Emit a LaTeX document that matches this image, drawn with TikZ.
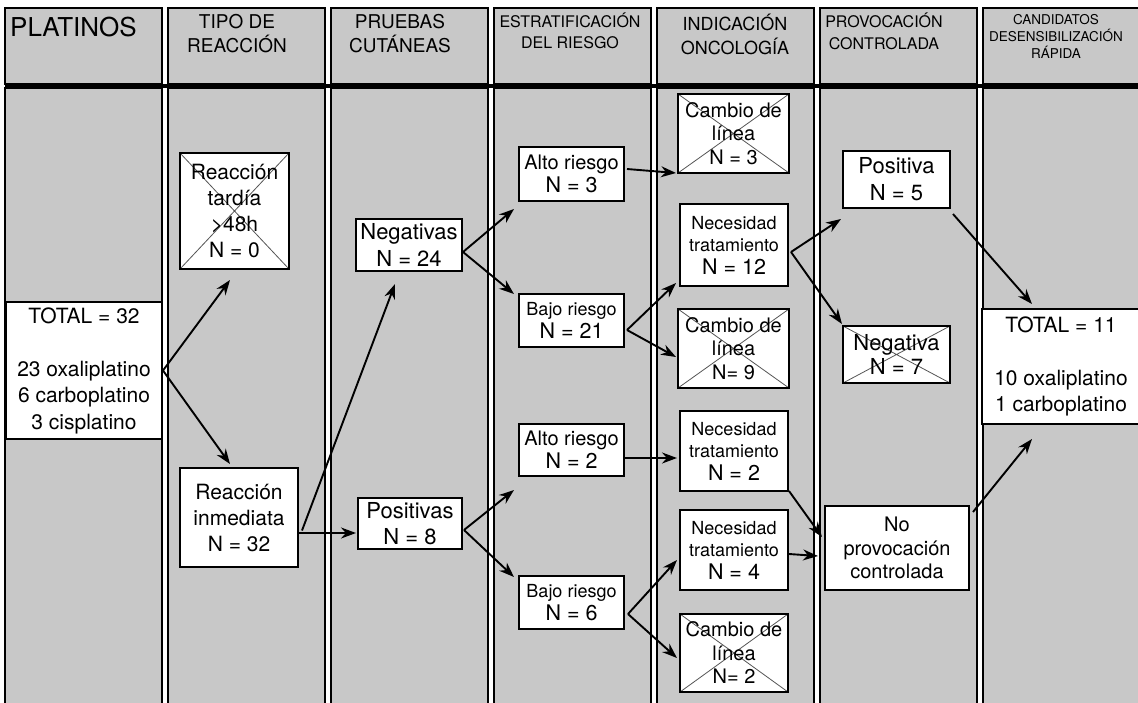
\documentclass[tikz,border=0pt]{standalone}
\usepackage{fontspec}
\setmainfont{TeX Gyre Heros}
\usetikzlibrary{arrows.meta,calc}

\definecolor{lanebg}{RGB}{200,200,200}
\definecolor{crossline}{RGB}{85,85,85}

\newcommand\txtS{\fontsize{18}{22.5}\selectfont}
\newcommand\txtN{\fontsize{21.5}{22.5}\selectfont}

\tikzset{
  lane/.style={draw=black, line width=2pt, fill=lanebg},
  box/.style={draw=black, line width=2pt, fill=white, inner sep=0pt,
    align=center, font=\fontsize{21}{26}\selectfont},
  crossed/.style={box, path picture={
    \draw[crossline, line width=0.8pt]
      (path picture bounding box.north west) -- (path picture bounding box.south east)
      (path picture bounding box.south west) -- (path picture bounding box.north east);}},
  head/.style={align=center, inner sep=0pt},
  arr/.style={line width=1.9pt, -{Stealth[length=15pt,width=11pt]}},
}

\begin{document}
\begin{tikzpicture}[x=1pt, y=-1pt]
\useasboundingbox (0,0) rectangle (1138,702);
\clip (0,0) rectangle (1138,702);
\fill[white] (0,0) rectangle (1138,702);

% swim lanes: header cells and body columns
\foreach \i in {0,...,6} {
  \pgfmathsetmacro\xl{5+163*\i}
  \draw[lane] (\xl,8) rectangle ++(157,76);
  \draw[lane] (\xl,88) rectangle ++(157,640);
}
\draw[line width=4pt] (5,86) -- (1150,86);

% column headings
\node[head, anchor=west, font=\fontsize{26}{30}\selectfont] (h1) at (10,27) {PLATINOS};
\node[head, font=\fontsize{19}{24}\selectfont] (h2) at (237,34) {TIPO DE\\REACCIÓN};
\node[head, font=\fontsize{19}{24}\selectfont] (h3) at (400,34) {PRUEBAS\\CUTÁNEAS};
\node[head, font=\fontsize{16}{21}\selectfont] (h4) at (570,31) {ESTRATIFICACIÓN\\DEL RIESGO};
\node[head, font=\fontsize{18}{24}\selectfont] (h5) at (735,34) {INDICACIÓN\\ONCOLOGÍA};
\node[head, font=\fontsize{16}{22}\selectfont] (h6) at (884,31) {PROVOCACIÓN\\CONTROLADA};
\node[head, font=\fontsize{13.5}{17}\selectfont] (h7) at (1056,36) {CANDIDATOS\\DESENSIBILIZACIÓN\\RÁPIDA};

% column 1
\node[box, minimum width=156pt, minimum height=137pt, font=\fontsize{21}{26.5}\selectfont]
  (total32) at (84,370.5) {TOTAL = 32\\[26.5pt]23 oxaliplatino\\6 carboplatino\\3 cisplatino};

% column 2
\node[crossed, minimum width=109pt, minimum height=116pt] (tardia) at (234.5,211)
  {Reacción\\tardía\\>48h\\N = 0};
\node[box, minimum width=118pt, minimum height=99pt] (inmediata) at (239,517.5)
  {Reacción\\inmediata\\N = 32};

% column 3
\node[box, minimum width=106pt, minimum height=52pt, font=\fontsize{22}{26.5}\selectfont]
  (negativas) at (409,245) {Negativas\\N = 24};
\node[box, minimum width=104pt, minimum height=51pt, font=\fontsize{22}{26.5}\selectfont]
  (positivas) at (410,523.5) {Positivas\\N = 8};

% column 4
\node[box, minimum width=105pt, minimum height=54pt, font=\fontsize{20}{23}\selectfont]
  (alto3) at (571.5,174) {Alto riesgo\\{\txtN N = 3}};
\node[box, minimum width=105pt, minimum height=53pt, font=\fontsize{18}{23}\selectfont]
  (bajo21) at (571.5,320.5) {Bajo riesgo\\{\txtN N = 21}};
\node[box, minimum width=105pt, minimum height=52pt, font=\fontsize{20}{23}\selectfont]
  (alto2) at (571.5,450) {Alto riesgo\\{\txtN N = 2}};
\node[box, minimum width=105pt, minimum height=53pt, font=\fontsize{18}{23}\selectfont]
  (bajo6) at (571.5,602.5) {Bajo riesgo\\{\txtN N = 6}};

% column 5
\node[crossed, minimum width=111pt, minimum height=79pt, font=\fontsize{20}{23.5}\selectfont]
  (cambio3) at (733.5,133.5) {Cambio de\\línea\\N = 3};
\node[box, minimum width=108pt, minimum height=82pt, font=\txtS]
  (nec12) at (734,245) {Necesidad\\tratamiento\\{\txtN N = 12}};
\node[crossed, minimum width=111pt, minimum height=79pt, font=\fontsize{20}{23.5}\selectfont]
  (cambio9) at (733.5,348.5) {Cambio de\\línea\\N= 9};
\node[box, minimum width=108pt, minimum height=80pt, font=\txtS]
  (nec2) at (734,451) {Necesidad\\tratamiento\\{\txtN N = 2}};
\node[box, minimum width=108pt, minimum height=80pt, font=\txtS]
  (nec4) at (734,550) {Necesidad\\tratamiento\\{\txtN N = 4}};
\node[crossed, minimum width=108pt, minimum height=78pt, font=\fontsize{20}{23.5}\selectfont]
  (cambio2) at (734,653) {Cambio de\\línea\\N= 2};

% column 6
\node[box, minimum width=107pt, minimum height=57pt, font=\fontsize{22}{27}\selectfont]
  (positiva) at (896.5,179.5) {Positiva\\N = 5};
\node[crossed, minimum width=107pt, minimum height=57pt, font=\fontsize{22}{24}\selectfont]
  (negativa) at (896.5,354.5) {Negativa\\N = 7};
\node[box, minimum width=144pt, minimum height=84pt, font=\fontsize{20}{23.5}\selectfont]
  (noprov) at (897,548) {No\\provocación\\controlada};

% column 7
\node[box, minimum width=158pt, minimum height=115pt, font=\fontsize{21}{26.5}\selectfont]
  (total11) at (1061,366.5) {TOTAL = 11\\[26.5pt]10 oxaliplatino\\1 carboplatino};

% connectors
\draw[arr] (total32.east) -- ($(tardia.south)+(-4.5,10)$);
\draw[arr] (total32.east) -- ($(inmediata.north)+(-9,-3)$);
\draw[arr] ($(inmediata.east)+(3,13)$) -- ($(negativas.south)+(-14,12)$);
\draw[arr] ($(inmediata.east)+(0,15.5)$) -- ($(positivas.west)+(-1,9.5)$);

\draw[arr] ($(negativas.east)+(0,7)$) -- ($(alto3.south west)+(-4,7)$);
\draw[arr] ($(negativas.east)+(0,7)$) -- ($(bajo21.north west)+(-4,1)$);
\draw[arr] ($(positivas.east)+(1,6.5)$) -- ($(alto2.south west)+(-4,13)$);
\draw[arr] ($(positivas.east)+(1,6.5)$) -- ($(bajo6.north west)+(-4,2)$);

\draw[arr] ($(alto3.east)+(2,-5)$) -- ($(cambio3.south west)+(-1,-1)$);
\draw[arr] ($(bajo21.east)+(2,9.5)$) -- ($(nec12.south west)+(-3,-4)$);
\draw[arr] ($(bajo21.east)+(2,9.5)$) -- ($(cambio9.west)+(-1,8.5)$);
\draw[arr] ($(alto2.east)+(0,8)$) -- ($(nec2.west)+(-2,7)$);
\draw[arr] ($(bajo6.east)+(3,11.5)$) -- ($(nec4.west)+(-2,10)$);
\draw[arr] ($(bajo6.east)+(3,11.5)$) -- ($(cambio2.west)+(-2,5)$);

\draw[arr] ($(nec12.east)+(2,7)$) -- ($(positiva.south west)+(-1,10)$);
\draw[arr] ($(nec12.east)+(2,7)$) -- ($(negativa.north west)+(0,-1)$);
\draw[arr] ($(nec2.south east)+(0,-1)$) -- ($(noprov.west)+(-2,-11)$);
\draw[arr] ($(nec4.east)+(0,4)$) -- ($(noprov.west)+(-6,8)$);

\draw[arr] ($(positiva.south east)+(2,5)$) -- ($(total11.north)+(-29,-4)$);
\draw[arr] ($(noprov.north east)+(3,7)$) -- ($(total11.south)+(-29,14)$);
\end{tikzpicture}
\end{document}
